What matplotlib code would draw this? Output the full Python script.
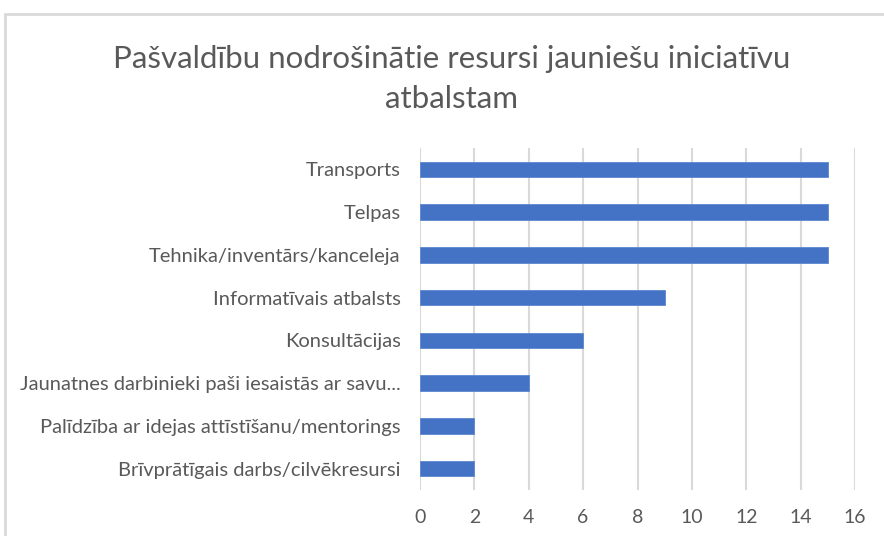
import matplotlib
matplotlib.use("Agg")
import matplotlib.pyplot as plt
from matplotlib.patches import Rectangle

plt.rcParams['font.family'] = ['Lato', 'DejaVu Sans']

# data, top to bottom as shown
categories = ["Transports",
              "Telpas",
              "Tehnika/inventārs/kanceleja",
              "Informatīvais atbalsts",
              "Konsultācijas",
              "Jaunatnes darbinieki paši iesaistās ar savu...",
              "Palīdzība ar idejas attīstīšanu/mentorings",
              "Brīvprātīgais darbs/cilvēkresursi"]
values = [15, 15, 15, 9, 6, 4, 2, 2]
xticks = [0, 2, 4, 6, 8, 10, 12, 14, 16]

title = "Pašvaldību nodrošinātie resursi jauniešu iniciatīvu\natbalstam"

grey_txt = "#595959"
grid_col = "#d9d9d9"
bar_col = "#4472C4"

fig = plt.figure(figsize=(8.84, 5.36), dpi=100)
W, H = 884, 536

# chart frame (light grey border, cut at right/bottom)
fig.patches.append(Rectangle((5 / W, -0.05), 1.05, 1 - 14 / H + 0.05,
                             transform=fig.transFigure, fill=False,
                             edgecolor=grid_col, linewidth=2))

ax = fig.add_axes([420 / W, 1 - 490 / H, (855 - 420) / W, (490 - 148) / H])

ypos = list(range(len(categories)))
ax.barh(ypos, values, height=0.36, color=bar_col, edgecolor="#5b86d0",
        linewidth=0.6, zorder=3)
ax.set_yticks(ypos)
ax.set_yticklabels(categories)
ax.set_ylim(len(categories) - 0.5, -0.5)
ax.set_xlim(0, 16)
ax.set_xticks(xticks)

ax.grid(axis="x", color=grid_col, linewidth=1.5, zorder=0)
for s in ax.spines.values():
    s.set_visible(False)
ax.tick_params(axis="both", length=0, colors=grey_txt)
ax.tick_params(axis="y", labelsize=14.5, pad=14)
ax.tick_params(axis="x", labelsize=14, pad=14)

fig.text(452 / W, 1 - 79 / H, title, ha="center", va="center",
         fontsize=22.5, color=grey_txt, linespacing=1.48)

fig.savefig("out.png", dpi=100)
